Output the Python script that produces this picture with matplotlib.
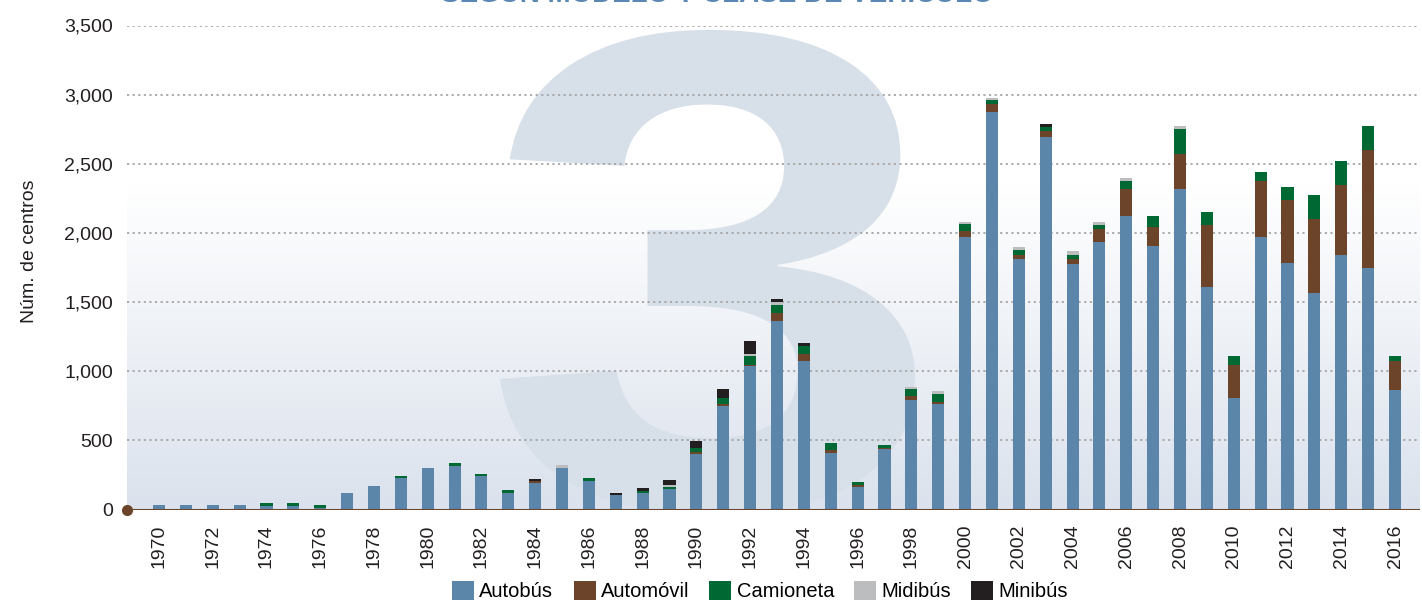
import numpy as np
import matplotlib
matplotlib.use("Agg")
import matplotlib.pyplot as plt
import matplotlib.transforms as mtransforms
from matplotlib.textpath import TextPath
from matplotlib.patches import PathPatch, Patch
from matplotlib.font_manager import FontProperties

plt.rcParams['font.family'] = ['Liberation Sans Narrow', 'Liberation Sans', 'DejaVu Sans']

years = list(range(1970, 2017))

autobus = [30, 30, 30, 30, 22, 22, 8, 120, 170, 228,
           300, 315, 243, 120, 192, 300, 207, 105, 120, 149,
           402, 752, 1040, 1366, 1076, 409, 163, 438, 793, 764,
           1967, 2873, 1815, 2692, 1772, 1938, 2119, 1909, 2315, 1612,
           808, 1967, 1779, 1562, 1844, 1743, 866]
automovil = [0, 0, 0, 0, 0, 0, 0, 0, 0, 0,
             0, 0, 0, 0, 15, 0, 0, 0, 0, 0,
             15, 14, 7, 58, 51, 22, 15, 7, 29, 15,
             44, 58, 29, 43, 43, 87, 196, 131, 254, 442,
             239, 406, 456, 536, 500, 855, 210]
camioneta = [0, 0, 0, 0, 22, 22, 25, 0, 0, 15,
             0, 22, 15, 21, 0, 0, 21, 0, 14, 14,
             29, 42, 65, 58, 58, 51, 21, 22, 51, 58,
             51, 29, 29, 29, 29, 29, 58, 79, 181, 94,
             65, 65, 95, 174, 174, 174, 36]
midibus = [0, 0, 0, 0, 0, 0, 0, 0, 0, 0,
           0, 0, 0, 0, 0, 22, 0, 0, 0, 15,
           0, 0, 15, 22, 0, 0, 0, 0, 15, 22,
           14, 14, 22, 0, 22, 22, 22, 0, 22, 0,
           0, 0, 0, 0, 0, 0, 0]
minibus = [0, 0, 0, 0, 0, 0, 0, 0, 0, 0,
           0, 0, 0, 0, 14, 0, 0, 15, 22, 36,
           50, 65, 94, 21, 21, 0, 0, 0, 0, 0,
           0, 0, 0, 22, 0, 0, 0, 0, 0, 0,
           0, 0, 0, 0, 0, 0, 0]

series = [('Autobús', autobus, '#5b86aa'),
          ('Automóvil', automovil, '#6b442a'),
          ('Camioneta', camioneta, '#006933'),
          ('Midibús', midibus, '#bcbdbf'),
          ('Minibús', minibus, '#231f20')]

yticks = [0, 500, 1000, 1500, 2000, 2500, 3000, 3500]

fig = plt.figure(figsize=(14.22, 6.02), dpi=100)
ax = fig.add_axes([127 / 1422, 1 - 509.5 / 602, 1293 / 1422, 484 / 602])
ax.set_xlim(1968.81, 2016.93)
ax.set_ylim(0, 3500)

# background gradient (white above ~2/3, light blue-grey at the bottom)
yf = np.linspace(0, 1, 300)
t = np.clip(yf / 0.67, 0, 1)
c_bot = np.array([0xdb, 0xe2, 0xed]) / 255.0
cols = c_bot[None, :] + (1 - c_bot[None, :]) * t[:, None]
ax.imshow(cols[:, None, :], extent=[0, 1, 0, 1], transform=ax.transAxes,
          aspect='auto', origin='lower', zorder=0)

# big "3" watermark
tp = TextPath((0, 0), '3', size=1, prop=FontProperties(family='Liberation Sans', weight='bold'))
ext = tp.get_extents()
bx0, bx1, by0, by1 = 0.2885, 0.6094, -0.01, 0.991
tr = (mtransforms.Affine2D().translate(-ext.x0, -ext.y0)
      .scale((bx1 - bx0) / ext.width, (by1 - by0) / ext.height)
      .translate(bx0, by0) + ax.transAxes)
ax.add_patch(PathPatch(tp, transform=tr, facecolor='#d7dfe9', edgecolor='none', zorder=1))

# dotted grid
for v in yticks[1:]:
    ax.axhline(v, color='#a5a5a5', lw=1.3, ls=(0, (1.2, 1.9)), zorder=2)

bottom = np.zeros(len(years))
for name, vals, col in series:
    ax.bar(years, vals, bottom=bottom, width=0.45, color=col, linewidth=0, zorder=3)
    bottom += np.array(vals)

ax.axhline(0, color='#6b442a', lw=2.2, zorder=4)
ax.plot([1968.81], [0], 'o', color='#6b442a', ms=7, clip_on=False, zorder=5)

for s in ax.spines.values():
    s.set_visible(False)
ax.set_yticks(yticks)
ax.set_yticklabels([f'{v:,}' for v in yticks])
ax.set_xticks(years[::2])
ax.set_xticklabels([str(y) for y in years[::2]], rotation=90)
ax.tick_params(axis='y', length=0, pad=10, labelsize=14, labelcolor='#231f20')
ax.tick_params(axis='x', length=0, pad=11, labelsize=14, labelcolor='#231f20')

fig.text(30 / 1422, 1 - 251 / 602, 'Núm. de centros', rotation=90, ha='center', va='center',
         fontsize=14, color='#231f20')

# title, mostly cut off at the top edge as in the source
fig.text(717 / 1422, 1 - 2.5 / 602, 'SEGÚN MODELO Y CLASE DE VEHÍCULO', ha='center', va='baseline',
         fontsize=20, fontweight='bold', color='#5b87b4', family=['Liberation Sans', 'DejaVu Sans'])

handles = [Patch(facecolor=c, edgecolor='none', label=n) for n, _, c in series]
fig.legend(handles=handles, loc='center', bbox_to_anchor=(760 / 1422, 11 / 602), ncol=5,
           frameon=False, fontsize=14.5, handlelength=1.1, handleheight=1.1,
           handletextpad=0.25, columnspacing=1.0, borderaxespad=0, borderpad=0)

fig.savefig('out.png', dpi=100)
